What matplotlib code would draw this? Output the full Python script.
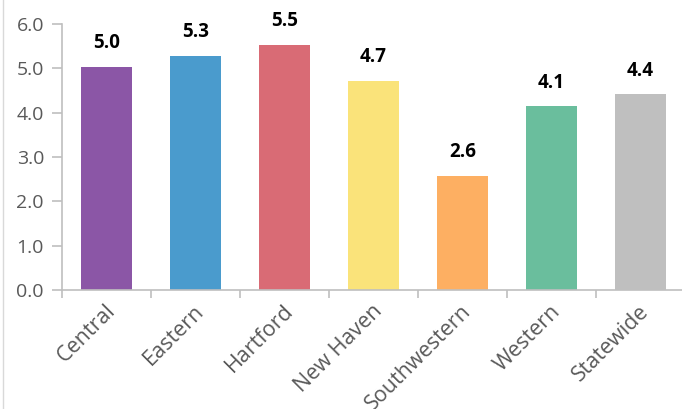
import matplotlib.pyplot as plt
import matplotlib.transforms as mtransforms
from matplotlib.lines import Line2D

regions = ['Central', 'Eastern', 'Hartford', 'New Haven', 'Southwestern', 'Western', 'Statewide']
values = [5.03, 5.27, 5.52, 4.71, 2.58, 4.14, 4.41]
labels = ['5.0', '5.3', '5.5', '4.7', '2.6', '4.1', '4.4']
colors = ['#8B56A6', '#4A9BCD', '#D96B75', '#FAE37A', '#FDAF62', '#6ABE9D', '#BFBFBF']

plt.rcParams['font.family'] = ['Open Sans', 'DejaVu Sans']

fig = plt.figure(figsize=(6.82, 4.09), dpi=100)
ax = fig.add_axes([62 / 682, 119 / 409, 623 / 682, 266 / 409])

x = list(range(len(regions)))
ax.bar(x, values, width=0.57, color=colors)
for xi, v, lab in zip(x, values, labels):
    ax.annotate(lab, (xi, v), xytext=(0, 10), textcoords='offset points',
                ha='center', va='bottom', fontsize=13.5, fontweight='bold', color='black')

ax.set_xlim(-0.5, len(regions) - 0.5)
ax.set_ylim(0, 6)
ax.set_yticks([0, 1, 2, 3, 4, 5, 6])
ax.set_yticklabels(['%.1f' % t for t in range(7)])

ax.set_xticks(x)
ax.set_xticklabels(regions, rotation=45, ha='right', va='center', rotation_mode='anchor')
ax.set_xticks([i - 0.5 for i in range(len(regions) + 1)], minor=True)
ax.tick_params(axis='x', which='major', length=0, pad=13, labelsize=15.5)
ax.tick_params(axis='x', which='minor', length=6, color='#BFBFBF', width=1.2)
ax.tick_params(axis='y', length=7, color='#BFBFBF', width=1.2, pad=6, labelsize=14)
ax.tick_params(labelcolor='#595959')

shift = mtransforms.ScaledTranslation(4 / 72, 0, fig.dpi_scale_trans)
for t in ax.get_xticklabels():
    t.set_transform(t.get_transform() + shift)

for s in ['top', 'right']:
    ax.spines[s].set_visible(False)
for s in ['left', 'bottom']:
    ax.spines[s].set_color('#BFBFBF')
    ax.spines[s].set_linewidth(1.2)

fig.add_artist(Line2D([3 / 682, 3 / 682], [0, 1], color='#D9D9D9', lw=1))

fig.savefig('out.png', dpi=100)
